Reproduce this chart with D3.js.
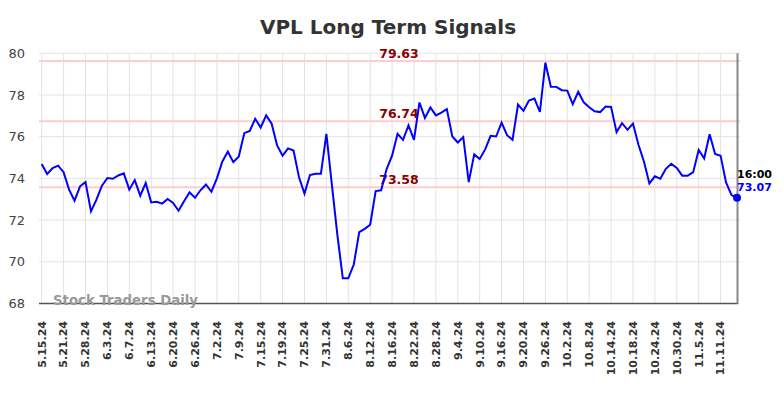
<!DOCTYPE html>
<html>
<head>
<meta charset="utf-8">
<script src="https://cdn.jsdelivr.net/npm/d3@7"></script>
<style>
  body { margin: 0; background: #fff; }
  svg { display: block; font-family: "DejaVu Sans", sans-serif; }
</style>
</head>
<body>
<svg id="chart"></svg>
<script>
// tick labels, one every 4 trading days
var tickLabels = ["5.15.24","5.21.24","5.28.24","6.3.24","6.7.24","6.13.24","6.20.24","6.26.24",
    "7.2.24","7.9.24","7.15.24","7.19.24","7.25.24","7.31.24","8.6.24","8.12.24","8.16.24",
    "8.22.24","8.28.24","9.4.24","9.10.24","9.16.24","9.20.24","9.26.24","10.2.24","10.8.24",
    "10.14.24","10.18.24","10.24.24","10.30.24","11.5.24","11.11.24"];

// daily closes
var prices = [74.69, 74.21, 74.49, 74.61, 74.30, 73.46, 72.93, 73.62, 73.82, 72.42,
    72.98, 73.65, 74.02, 73.98, 74.14, 74.24, 73.46, 73.92, 73.17, 73.78,
    72.85, 72.88, 72.79, 73.01, 72.82, 72.45, 72.90, 73.33, 73.07, 73.43,
    73.71, 73.36, 74.00, 74.81, 75.28, 74.78, 75.05, 76.17, 76.28, 76.86,
    76.44, 77.02, 76.62, 75.58, 75.09, 75.44, 75.34, 74.05, 73.27, 74.16,
    74.22, 74.22, 76.14, 73.70, 71.30, 69.21, 69.21, 69.87, 71.42, 71.58,
    71.78, 73.39, 73.43, 74.45, 75.09, 76.14, 75.85, 76.55, 75.85, 77.64,
    76.90, 77.40, 77.02, 77.16, 77.32, 76.01, 75.72, 75.98, 73.82, 75.15,
    74.93, 75.39, 76.04, 76.01, 76.68, 76.07, 75.85, 77.54, 77.24, 77.73,
    77.83, 77.19, 79.55, 78.40, 78.39, 78.23, 78.21, 77.56, 78.15, 77.65,
    77.41, 77.22, 77.18, 77.45, 77.43, 76.22, 76.65, 76.33, 76.63, 75.61,
    74.81, 73.76, 74.10, 73.98, 74.46, 74.70, 74.50, 74.13, 74.13, 74.30,
    75.36, 74.96, 76.12, 75.17, 75.09, 73.81, 73.20, 73.07];

var signals = [79.63, 76.74, 73.58];
var yTicks = [68, 70, 72, 74, 76, 78, 80];
var lastTime = "16:00";

var width = 784, height = 398;
var svg = d3.select("#chart").attr("width", width).attr("height", height);

var x = d3.scaleLinear().domain([0, prices.length - 1]).range([41.7, 737]);
var y = d3.scaleLinear().domain([68, 80]).range([303.5, 53.3]);

// title
svg.append("text")
    .attr("x", 388).attr("y", 34)
    .attr("text-anchor", "middle")
    .style("font-size", "20px").style("font-weight", "bold").style("fill", "#333")
    .text("VPL Long Term Signals");

// grid
svg.append("g").selectAll("line")
    .data(yTicks).enter().append("line")
    .attr("x1", 39).attr("x2", 740)
    .attr("y1", function (d) { return y(d); }).attr("y2", function (d) { return y(d); })
    .style("stroke", "#e3e3e3").style("stroke-width", 1);

svg.append("g").selectAll("line")
    .data(tickLabels).enter().append("line")
    .attr("x1", function (d, i) { return x(i * 4); }).attr("x2", function (d, i) { return x(i * 4); })
    .attr("y1", y(80)).attr("y2", y(68))
    .style("stroke", "#e3e3e3").style("stroke-width", 1);

// y labels
svg.append("g").selectAll("text")
    .data(yTicks).enter().append("text")
    .attr("x", 25).attr("y", function (d) { return y(d); })
    .attr("dy", "0.35em")
    .attr("text-anchor", "end")
    .style("font-size", "13px").style("fill", "#444")
    .text(function (d) { return d; });

// x labels
svg.append("g").selectAll("text")
    .data(tickLabels).enter().append("text")
    .attr("transform", function (d, i) { return "translate(" + x(i * 4) + ",321) rotate(-90)"; })
    .attr("dy", "0.35em")
    .attr("text-anchor", "end")
    .style("font-size", "11px").style("font-weight", "bold").style("fill", "#333")
    .text(function (d) { return d; });

// signal lines
svg.append("g").selectAll("line")
    .data(signals).enter().append("line")
    .attr("x1", 39).attr("x2", 740)
    .attr("y1", function (d) { return y(d); }).attr("y2", function (d) { return y(d); })
    .style("stroke", "#ffcccc").style("stroke-width", 2);

svg.append("g").selectAll("text")
    .data(signals).enter().append("text")
    .attr("x", 399).attr("y", function (d) { return y(d) - 3; })
    .attr("text-anchor", "middle")
    .style("font-size", "12.5px").style("font-weight", "bold").style("fill", "#8b0000")
    .text(function (d) { return d.toFixed(2); });

// axes lines
svg.append("line")
    .attr("x1", 39).attr("x2", 738).attr("y1", y(68)).attr("y2", y(68))
    .style("stroke", "#555").style("stroke-width", 1.5);
svg.append("line")
    .attr("x1", 737.5).attr("x2", 737.5).attr("y1", y(80)).attr("y2", y(68))
    .style("stroke", "#888").style("stroke-width", 2);

// price line
var line = d3.line()
    .x(function (d, i) { return x(i); })
    .y(function (d) { return y(d); });

svg.append("path")
    .datum(prices)
    .attr("d", line)
    .style("fill", "none").style("stroke", "#0000ff").style("stroke-width", 2);

// last point
var last = prices.length - 1;
svg.append("circle")
    .attr("cx", x(last)).attr("cy", y(prices[last])).attr("r", 4)
    .style("fill", "#0000ff");

svg.append("text")
    .attr("x", x(last)).attr("y", 177.5)
    .style("font-size", "11px").style("font-weight", "bold").style("fill", "#000")
    .text(lastTime);
svg.append("text")
    .attr("x", x(last)).attr("y", 190.5)
    .style("font-size", "11px").style("font-weight", "bold").style("fill", "#0000ff")
    .text(prices[last].toFixed(2));

// watermark
svg.append("text")
    .attr("x", 53).attr("y", 305)
    .style("font-size", "13.3px").style("font-weight", "bold").style("fill", "#999")
    .text("Stock Traders Daily");
</script>
</body>
</html>
